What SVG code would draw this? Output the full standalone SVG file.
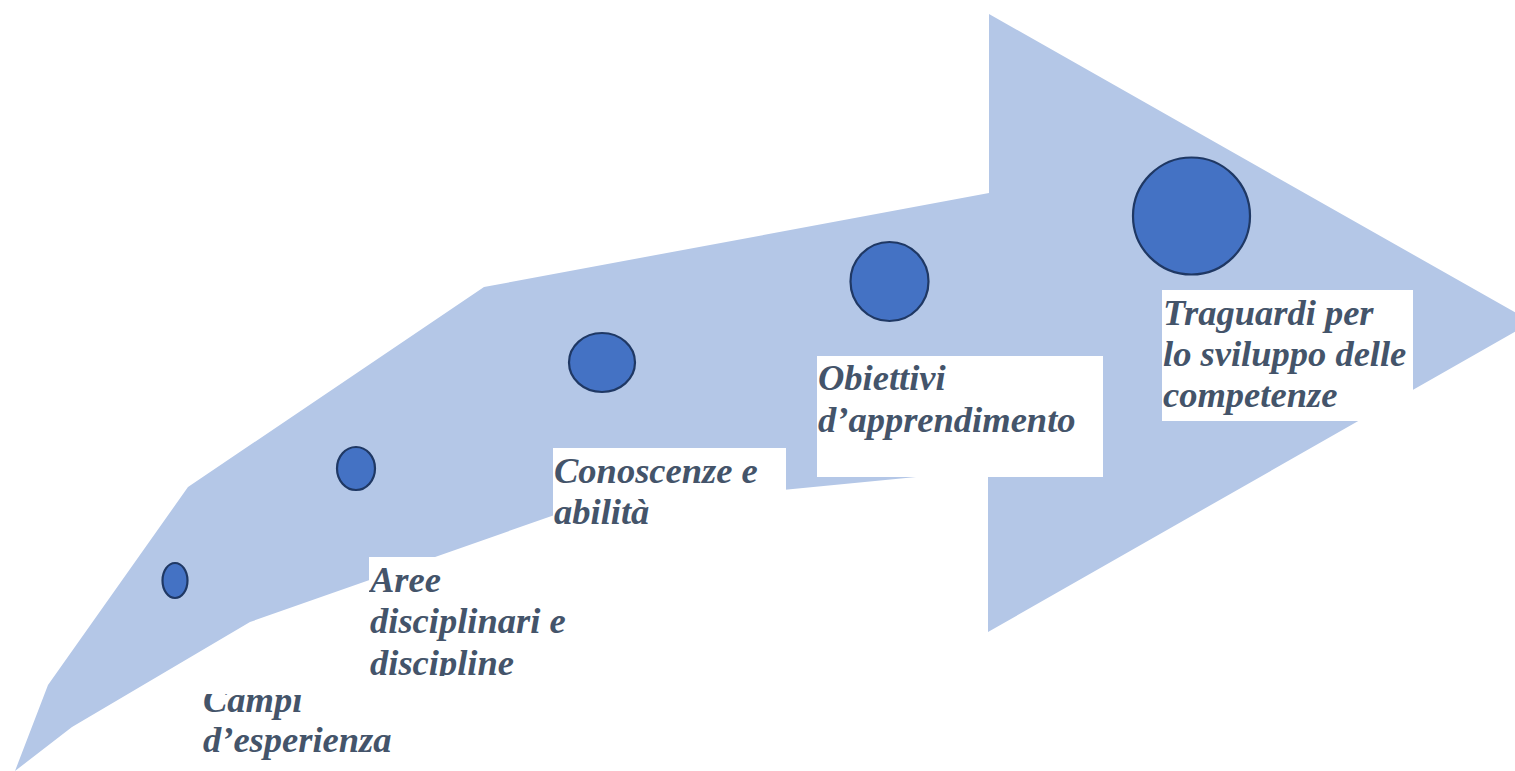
<svg xmlns="http://www.w3.org/2000/svg" width="1515" height="771" viewBox="0 0 1515 771">
  <style>
    .arrow { fill: #b4c7e7; stroke: none; }
    .dot { fill: #4472c4; stroke: #1f3864; stroke-width: 2.2; }
    .box { fill: #ffffff; stroke: none; }
    .lbl { font-family: "Liberation Serif", "Times New Roman", serif; font-weight: bold; font-style: italic; font-size: 36.5px; fill: #44546a; }
  </style>
  <defs>
    <clipPath id="clipAree"><rect x="369" y="557" width="215" height="119"/></clipPath>
    <clipPath id="clipCampi"><rect x="200" y="694" width="200" height="77"/></clipPath>
  </defs>
  <rect width="1515" height="771" fill="#ffffff"/>
  <g id="arrow">
    <polygon class="arrow" points="15,771 48,685 188,487 484,287 989,193 989,14 1532,322 988,632 988,470 566,511 250,622 72,727"/>
  </g>
  <g id="connectors"></g>
  <g id="node-campi">
    <ellipse class="dot" cx="175" cy="580.5" rx="12.5" ry="17.5"/>
    <g clip-path="url(#clipCampi)">
      <text class="lbl" x="203" y="712">Campi</text>
      <text class="lbl" x="203" y="752">d’esperienza</text>
    </g>
  </g>
  <g id="node-aree">
    <ellipse class="dot" cx="356" cy="468.5" rx="19" ry="21.5"/>
    <rect class="box" x="369" y="557" width="215" height="119"/>
    <g clip-path="url(#clipAree)">
      <text class="lbl" x="370" y="592">Aree</text>
      <text class="lbl" x="370" y="633">disciplinari e</text>
      <text class="lbl" x="370" y="675">discipline</text>
    </g>
  </g>
  <g id="node-conoscenze">
    <ellipse class="dot" cx="602" cy="362.5" rx="33" ry="29.5"/>
    <rect class="box" x="553" y="448" width="233" height="90"/>
    <text class="lbl" x="554" y="483">Conoscenze e</text>
    <text class="lbl" x="554" y="524">abilità</text>
  </g>
  <g id="node-obiettivi">
    <ellipse class="dot" cx="889.5" cy="281.5" rx="39" ry="39.5"/>
    <rect class="box" x="817" y="356" width="286" height="121"/>
    <text class="lbl" x="818" y="390">Obiettivi</text>
    <text class="lbl" x="818" y="432">d’apprendimento</text>
  </g>
  <g id="node-traguardi">
    <circle class="dot" cx="1191.5" cy="216" r="58.5"/>
    <rect class="box" x="1162" y="290" width="251" height="131"/>
    <text class="lbl" x="1163" y="325">Traguardi per</text>
    <text class="lbl" x="1163" y="366">lo sviluppo delle</text>
    <text class="lbl" x="1163" y="407">competenze</text>
  </g>
</svg>
